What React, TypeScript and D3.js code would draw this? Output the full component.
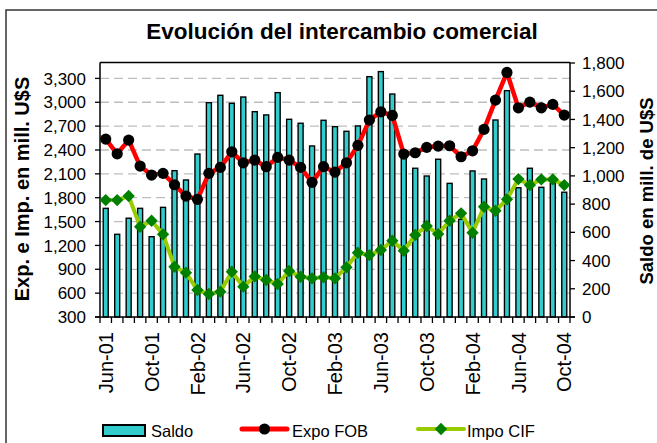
import React from "react";
import * as d3 from "d3";

const months = [
  "Jun-01","Jul-01","Aug-01","Sep-01","Oct-01","Nov-01","Dec-01",
  "Jan-02","Feb-02","Mar-02","Apr-02","May-02","Jun-02","Jul-02","Aug-02","Sep-02","Oct-02","Nov-02","Dec-02",
  "Jan-03","Feb-03","Mar-03","Apr-03","May-03","Jun-03","Jul-03","Aug-03","Sep-03","Oct-03","Nov-03","Dec-03",
  "Jan-04","Feb-04","Mar-04","Apr-04","May-04","Jun-04","Jul-04","Aug-04","Sep-04","Oct-04",
];
const xLabels = ["Jun-01","Oct-01","Feb-02","Jun-02","Oct-02","Feb-03","Jun-03","Oct-03","Feb-04","Jun-04","Oct-04"];

const saldo = [770,586,700,770,569,777,1037,971,1155,1519,1571,1514,1559,1455,1432,1590,1401,1373,1212,1394,1349,1316,1354,1703,1739,1580,1148,1054,999,1118,947,692,1035,978,1396,1604,916,1054,919,947,884];
const expo = [2537,2352,2524,2198,2085,2106,1963,1821,1779,2106,2181,2377,2239,2273,2190,2307,2273,2181,1993,2190,2122,2239,2458,2776,2880,2835,2349,2365,2433,2449,2453,2315,2390,2659,3027,3375,2930,3002,2930,2973,2839];
const impo = [1770,1770,1821,1435,1510,1339,932,857,639,589,618,869,681,810,765,715,878,806,786,799,786,925,1108,1079,1142,1259,1133,1331,1444,1343,1510,1603,1359,1686,1636,1779,2034,1959,2030,2030,1959];

const leftTicks = [300,600,900,1200,1500,1800,2100,2400,2700,3000,3300];
const rightTicks = [0,200,400,600,800,1000,1200,1400,1600,1800];

const FONT = "'Liberation Sans', Arial, sans-serif";

export default function App() {
  const L = 100, R = 570, T = 62.5, B = 317;
  const x = d3.scaleBand<string>().domain(months).range([L, R]).padding(0);
  const bw = x.bandwidth();
  const cx = (i: number) => (x(months[i]) as number) + bw / 2;
  const yL = d3.scaleLinear().domain([300, 3500]).range([B, T]);
  const yR = d3.scaleLinear().domain([0, 1800]).range([B, T + 0.5]);
  const barW = 5;

  const lineL = d3.line<number>().x((_, i) => cx(i)).y((d) => yL(d));
  const diamond = d3.symbol().type(d3.symbolSquare).size(76)() as string;

  return (
    <svg width={657} height={443} style={{ position: "absolute", left: 0, top: 0, background: "#fff" }} fontFamily={FONT}>
      <rect x={6} y={10} width={720} height={500} fill="#fff" stroke="#333" strokeWidth={1.5} />
      <text x={342} y={38.5} textAnchor="middle" fontSize={22.5} fontWeight="bold" fill="#000">
        Evolución del intercambio comercial
      </text>

      {/* gridlines */}
      {leftTicks.slice(1).map((t) => (
        <line key={"g" + t} x1={L} x2={R} y1={yL(t)} y2={yL(t)} stroke="#bdbdbd" strokeWidth={1.3} strokeDasharray="9,5" />
      ))}

      {/* bars */}
      {saldo.map((v, i) => (
        <rect key={"b" + i} x={cx(i) - barW / 2} y={yR(v)} width={barW} height={B - yR(v)} fill="#33CCCC" stroke="#000" strokeWidth={1.4} />
      ))}

      {/* plot frame */}
      <line x1={L} x2={R} y1={T} y2={T} stroke="#000" strokeWidth={1.5} />
      <line x1={L} x2={L} y1={T} y2={B} stroke="#000" strokeWidth={1.5} />
      <line x1={R} x2={R} y1={T} y2={B} stroke="#000" strokeWidth={1.5} />
      <line x1={L - 5} x2={R + 5} y1={B} y2={B} stroke="#000" strokeWidth={1.5} />

      {/* lines */}
      <path d={lineL(impo) as string} fill="none" stroke="#99CC00" strokeWidth={4} strokeLinejoin="round" />
      {impo.map((v, i) => (
        <path key={"d" + i} d={diamond} transform={`translate(${cx(i)},${yL(v)}) rotate(45)`} fill="#008000" />
      ))}
      <path d={lineL(expo) as string} fill="none" stroke="#FF0000" strokeWidth={4.5} strokeLinejoin="round" />
      {expo.map((v, i) => (
        <circle key={"c" + i} cx={cx(i)} cy={yL(v)} r={5.6} fill="#000" />
      ))}

      {/* left axis */}
      {leftTicks.map((t) => (
        <g key={"l" + t}>
          <line x1={L - 5} x2={L} y1={yL(t)} y2={yL(t)} stroke="#000" strokeWidth={1.3} />
          <text x={86} y={yL(t)} dy="0.36em" textAnchor="end" fontSize={17} fill="#000">{d3.format(",")(t)}</text>
        </g>
      ))}
      {/* right axis */}
      {rightTicks.map((t) => (
        <g key={"r" + t}>
          <line x1={R} x2={R + 5} y1={yR(t)} y2={yR(t)} stroke="#000" strokeWidth={1.3} />
          <text x={582} y={yR(t)} dy="0.36em" textAnchor="start" fontSize={17} fill="#000">{d3.format(",")(t)}</text>
        </g>
      ))}
      {/* x ticks */}
      {d3.range(months.length + 1).map((i) => {
        const xx = L + i * bw;
        return <line key={"xt" + i} x1={xx} x2={xx} y1={B} y2={B + 6} stroke="#000" strokeWidth={1.3} />;
      })}
      {months.map((m, i) =>
        xLabels.includes(m) ? (
          <text key={"xl" + m} transform={`translate(${cx(i) + 7.2},332) rotate(-90)`} textAnchor="end" fontSize={20} fill="#000">{m}</text>
        ) : null
      )}

      {/* axis titles */}
      <text transform="translate(29,189) rotate(-90)" textAnchor="middle" fontSize={20} fontWeight="bold" fill="#000">Exp. e Imp. en mill. U$S</text>
      <text transform="translate(653,191) rotate(-90)" textAnchor="middle" fontSize={18.5} fontWeight="bold" fill="#000">Saldo en mill. de U$S</text>

      {/* legend */}
      <rect x={103} y={425} width={42} height={11} fill="#33CCCC" stroke="#000" strokeWidth={2} />
      <text x={151} y={437} fontSize={16.5} fill="#000">Saldo</text>
      <line x1={242} x2={287} y1={429} y2={429} stroke="#FF0000" strokeWidth={5} strokeLinecap="round" />
      <circle cx={264.5} cy={429} r={5.6} fill="#000" />
      <text x={292} y={437} fontSize={16.5} fill="#000">Expo FOB</text>
      <line x1={418} x2={464} y1={429} y2={429} stroke="#99CC00" strokeWidth={4} strokeLinecap="round" />
      <path d={diamond} transform="translate(441,429) rotate(45)" fill="#008000" />
      <text x={467} y={437} fontSize={16.5} fill="#000">Impo CIF</text>
    </svg>
  );
}
